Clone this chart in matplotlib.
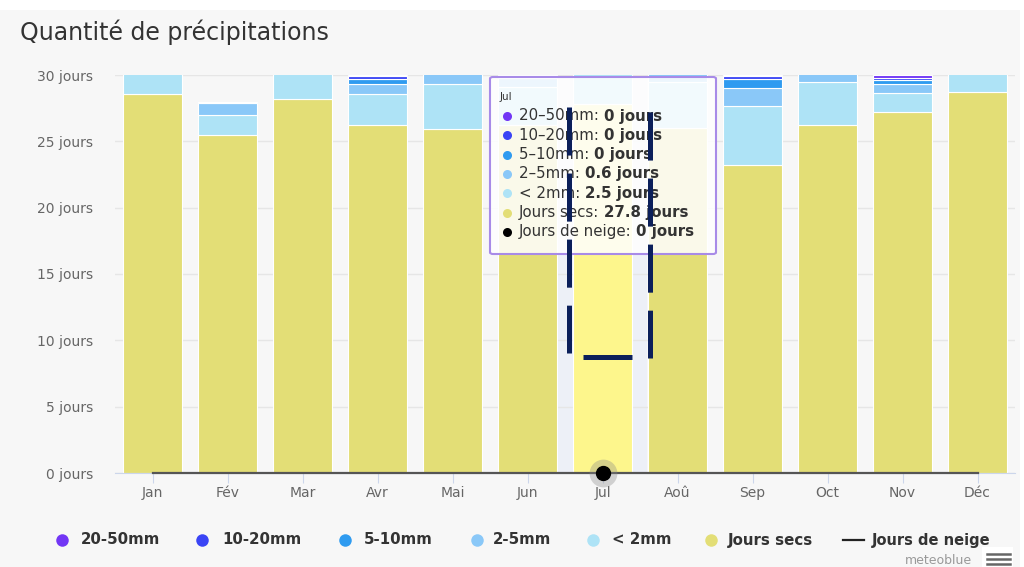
import numpy as np
import matplotlib
matplotlib.use('Agg')
import matplotlib.pyplot as plt
from matplotlib.lines import Line2D
from matplotlib.patches import Rectangle, FancyBboxPatch
from matplotlib.text import Annotation

plt.rcParams['font.family'] = ['DejaVu Sans']
plt.rcParams['lines.scale_dashes'] = False

# jours par mois et par classe de précipitations
months = ['Jan', 'Fév', 'Mar', 'Avr', 'Mai', 'Jun', 'Jul', 'Aoû', 'Sep', 'Oct', 'Nov', 'Déc']
dry = [28.6, 25.5, 28.2, 26.2, 25.9, 26.2, 27.8, 26.0, 23.2, 26.2, 27.2, 28.7]
lt2 = [2.2, 1.5, 2.5, 2.4, 3.4, 2.9, 2.5, 3.5, 4.5, 3.3, 1.45, 2.0]
mm2_5 = [0.2, 0.9, 0.3, 0.7, 1.2, 0.7, 0.6, 1.2, 1.35, 1.0, 0.65, 0.3]
mm5_10 = [0, 0.1, 0, 0.4, 0.4, 0.2, 0, 0.3, 0.65, 0.4, 0.3, 0]
mm10_20 = [0, 0, 0, 0.2, 0.1, 0, 0, 0, 0.2, 0.1, 0.2, 0]
mm20_50 = [0, 0, 0, 0.1, 0, 0, 0, 0, 0.1, 0, 0.2, 0]
snow = [0] * 12

series_names = ['Jours secs', '< 2mm', '2-5mm', '5-10mm', '10-20mm', '20-50mm']
series_colors = ['#e3de76', '#aee3f6', '#8ac8f8', '#2f9bf0', '#3a44f5', '#7236f5']
hover_color = '#fdf68c'
hover_idx = 6

W, H = 1024, 567


def fx(x):
    return x / W


def fy(y):
    return 1 - y / H


fig = plt.figure(figsize=(W / 100, H / 100), dpi=100, facecolor='white')
fig.add_artist(Rectangle((0, 0), fx(1020), fy(10), transform=fig.transFigure,
                         facecolor='#f7f7f7', edgecolor='none', zorder=-10))

ax = fig.add_axes([fx(115), fy(473), 900 / W, 398 / H])
ax.set_facecolor('none')

x = np.arange(len(months))
layers = [dry, lt2, mm2_5, mm5_10, mm10_20, mm20_50]
bottom = np.zeros(len(months))
for vals, col in zip(layers, series_colors):
    vals = np.array(vals, dtype=float)
    colors = [col] * len(months)
    if col == series_colors[0]:
        colors[hover_idx] = hover_color
    ax.bar(x, vals, bottom=bottom, width=0.79, color=colors,
           edgecolor='white', linewidth=0.8, zorder=2)
    bottom += vals

# colonne survolée
ax.axvspan(hover_idx - 0.62, hover_idx + 0.59, color='#e9eef7', alpha=0.7, zorder=1, lw=0)

# jours de neige
ax.plot(x, snow, color='#555555', lw=1.6, zorder=5, clip_on=False)
ax.plot(hover_idx, snow[hover_idx], 'o', ms=20, color='#888888', alpha=0.35,
        mec='none', zorder=6, clip_on=False)
ax.plot(hover_idx, snow[hover_idx], 'o', ms=10, color='black', zorder=7, clip_on=False)

ax.set_xlim(-0.5, 11.5)
ax.set_ylim(0, 30)
ax.set_yticks(range(0, 31, 5))
ax.set_yticklabels([f'{v} jours' for v in range(0, 31, 5)])
ax.set_xticks(x)
ax.set_xticklabels(months)
ax.grid(axis='y', color='#e6e6e6', lw=1, zorder=0)
for s in ['top', 'right', 'left']:
    ax.spines[s].set_visible(False)
ax.spines['bottom'].set_color('#ccd6eb')
ax.tick_params(axis='y', length=0, pad=16, labelsize=10, labelcolor='#666666')
ax.tick_params(axis='x', length=7.2, color='#ccd6eb', pad=2, labelsize=10,
               labelcolor='#666666')

fig.text(fx(20), fy(40), 'Quantité de précipitations', fontsize=17,
         color='#333333', va='baseline')

# info-bulle
fig.add_artist(FancyBboxPatch((fx(490), fy(254)), 226 / W, 177 / H,
                              boxstyle='round,pad=0,rounding_size=0.003',
                              transform=fig.transFigure, facecolor=(1, 1, 1, 0.85),
                              edgecolor='#a88be8', lw=1.5, zorder=20))
fig.text(fx(500), fy(97), months[hover_idx], fontsize=7.5, color='#333333',
         va='center', zorder=21)
tip_names = ['20–50mm', '10–20mm', '5–10mm', '2–5mm', '< 2mm', 'Jours secs', 'Jours de neige']
tip_colors = series_colors[::-1] + ['black']
tip_vals = [layer[hover_idx] for layer in layers[::-1]] + [snow[hover_idx]]
for i, (name, c, v) in enumerate(zip(tip_names, tip_colors, tip_vals)):
    yy = 116 + i * 19.3
    fig.add_artist(Line2D([fx(507)], [fy(yy)], marker='o', ms=6.5, color=c,
                          mec='none', transform=fig.transFigure, zorder=21))
    t = fig.text(fx(519), fy(yy), f'{name}: ', fontsize=10.8, color='#333333',
                 va='center', zorder=21)
    val = Annotation(f'{v:g} jours', xy=(1, 0.5), xycoords=t, va='center',
                     fontsize=10.8, fontweight='bold', color='#333333',
                     annotation_clip=False)
    val.set_zorder(22)
    fig.add_artist(val)

# tracé en tirets par-dessus
dash_kw = dict(color='#0b1f5a', lw=3.6, solid_capstyle='butt', dash_capstyle='butt',
               transform=fig.transFigure, zorder=30)
fig.add_artist(Line2D([fx(569), fx(569)], [fy(107), fy(353)],
                      linestyle=(0, (34.6, 12.96)), **dash_kw))
fig.add_artist(Line2D([fx(650), fx(650)], [fy(112), fy(358)],
                      linestyle=(0, (34.6, 12.96)), **dash_kw))
fig.add_artist(Line2D([fx(583), fx(632)], [fy(357), fy(357)], **dash_kw))

# légende
leg_names = ['20-50mm', '10-20mm', '5-10mm', '2-5mm', '< 2mm', 'Jours secs']
leg_colors = series_colors[::-1]
leg_dot_x = [62, 202, 345, 477, 593, 711]
leg_txt_x = [81, 222, 364, 493, 612, 728]
for name, c, dx, tx in zip(leg_names, leg_colors, leg_dot_x, leg_txt_x):
    fig.add_artist(Line2D([fx(dx)], [fy(540)], marker='o', ms=9, color=c, mec='none',
                          transform=fig.transFigure))
    fig.text(fx(tx), fy(540), name, fontsize=10.8, fontweight='bold',
             color='#333333', va='center')
fig.add_artist(Line2D([fx(843), fx(864)], [fy(540), fy(540)], color='#222222', lw=1.6,
                      transform=fig.transFigure))
fig.text(fx(872), fy(540), 'Jours de neige', fontsize=10.5, fontweight='bold',
         color='#333333', va='center')

fig.text(fx(972), fy(561), 'meteoblue', fontsize=9, color='#999999', ha='right',
         va='center')
fig.add_artist(Rectangle((fx(982), 0), 31 / W, 20 / H, transform=fig.transFigure,
                         facecolor='white', edgecolor='none'))
for yy in [554, 559, 563.5]:
    fig.add_artist(Line2D([fx(987), fx(1010)], [fy(yy), fy(yy)], color='#666666',
                          lw=1.8, transform=fig.transFigure))

fig.savefig('out.png', dpi=100, facecolor=fig.get_facecolor())
